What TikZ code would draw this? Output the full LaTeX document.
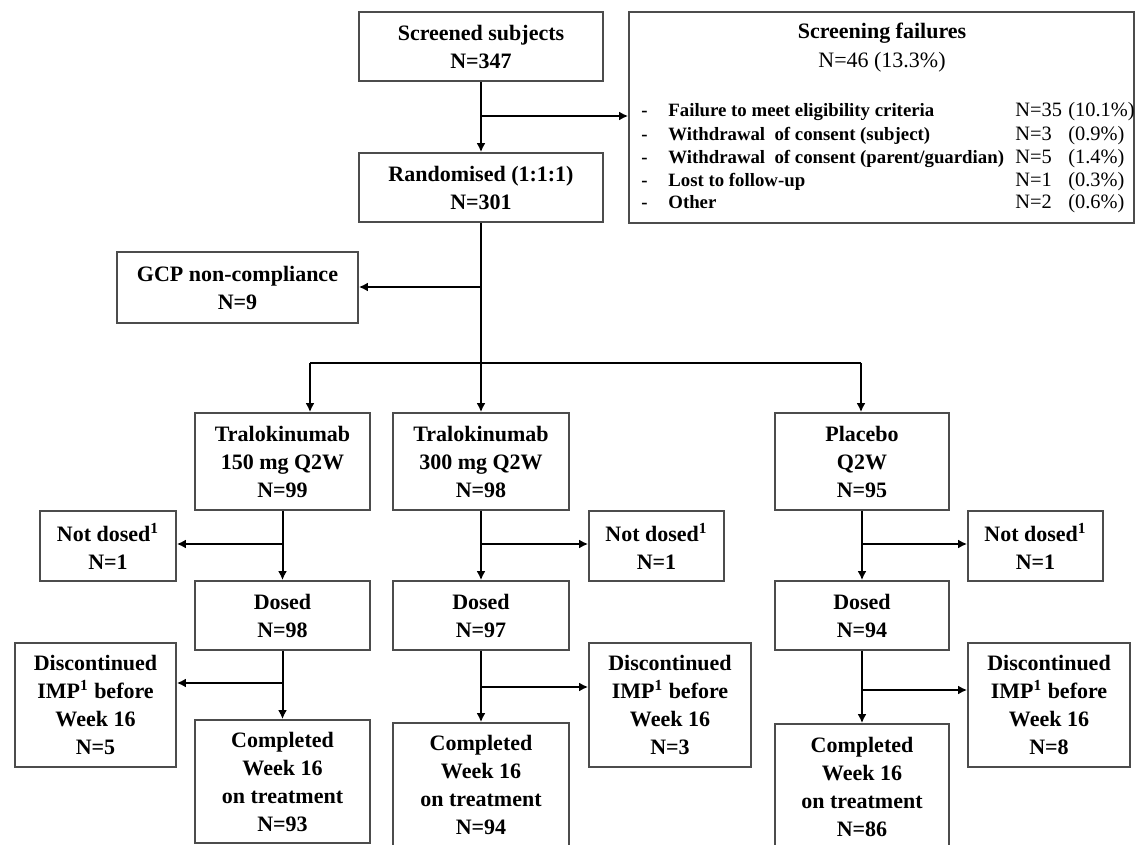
\documentclass[tikz,border=0pt]{standalone}
\usepackage{fontspec}
\setmainfont{Liberation Serif}
\usetikzlibrary{arrows.meta}
\begin{document}
\begin{tikzpicture}[x=0.5pt,y=-0.5pt,
  box/.style={draw=black!70, line width=0.9pt, fill=white, align=center, inner sep=0pt,
    font=\fontsize{11}{14}\selectfont\bfseries},
  arr/.style={line width=1pt, -{Latex[length=4.5pt,width=4.5pt]}},
  ln/.style={line width=1pt},
  dashitem/.style={anchor=base west, inner sep=0pt, font=\fontsize{9.4}{11}\selectfont\bfseries},
  item/.style={anchor=base west, inner sep=0pt, font=\fontsize{9.4}{11}\selectfont\bfseries},
  num/.style={anchor=base west, inner sep=0pt, font=\fontsize{10.2}{12}\selectfont}
]
\useasboundingbox (0,0) rectangle (1137,845);
\fill[white] (0,0) rectangle (1137,845);
\clip (0,0) rectangle (1137,845);

% top part
\node[box, minimum width=122pt, minimum height=34.5pt] (scr) at (481,46.5) {Screened subjects\\N=347};
\node[box, minimum width=122pt, minimum height=34.5pt] (rand) at (481,187.5) {Randomised (1:1:1)\\N=301};
\node[box, minimum width=252.5pt, minimum height=105.5pt] (sf) at (881.5,117.5) {};
\node[inner sep=0pt, align=center, font=\fontsize{11}{14.5}\selectfont] (sft) at (882,47.5) {\textbf{Screening failures}\\N=46 (13.3\%)};
\node[box, minimum width=120.5pt, minimum height=35.5pt] (gcp) at (237.5,287.5) {GCP non-compliance\\N=9};

% screening failure items
\node[dashitem] (d1) at (641,117) {-};
\node[dashitem] (d2) at (641,140.5) {-};
\node[dashitem] (d3) at (641,163.5) {-};
\node[dashitem] (d4) at (641,186.5) {-};
\node[dashitem] (d5) at (641,209) {-};
\node[item] (i1) at (668,117) {Failure to meet eligibility criteria};
\node[item] (i2) at (668,140.5) {Withdrawal\ \ of consent (subject)};
\node[item] (i3) at (668,163.5) {Withdrawal\ \ of consent (parent/guardian)};
\node[item] (i4) at (668,186.5) {Lost to follow-up};
\node[item] (i5) at (668,209) {Other};
\node[num] (n1) at (1015,117) {\makebox[26.5pt][l]{N=35}(10.1\%)};
\node[num] (n2) at (1015,140.5) {\makebox[26.5pt][l]{N=3}(0.9\%)};
\node[num] (n3) at (1015,163.5) {\makebox[26.5pt][l]{N=5}(1.4\%)};
\node[num] (n4) at (1015,186.5) {\makebox[26.5pt][l]{N=1}(0.3\%)};
\node[num] (n5) at (1015,209) {\makebox[26.5pt][l]{N=2}(0.6\%)};

% arms
\node[box, minimum width=87.5pt, minimum height=48.5pt] (t150) at (282.5,461.5) {Tralokinumab\\150 mg Q2W\\N=99};
\node[box, minimum width=88pt, minimum height=48.5pt] (t300) at (481,461.5) {Tralokinumab\\300 mg Q2W\\N=98};
\node[box, minimum width=87pt, minimum height=48.5pt] (pla) at (862,461.5) {Placebo\\Q2W\\N=95};

\node[box, minimum width=68pt, minimum height=35pt] (nd1) at (108,546) {Not dosed\textsuperscript{1}\\N=1};
\node[box, minimum width=67.5pt, minimum height=35pt] (nd2) at (656.5,546) {Not dosed\textsuperscript{1}\\N=1};
\node[box, minimum width=67.5pt, minimum height=35pt] (nd3) at (1035.5,546) {Not dosed\textsuperscript{1}\\N=1};

\node[box, minimum width=87.5pt, minimum height=34.5pt] (d150) at (282.5,615.5) {Dosed\\N=98};
\node[box, minimum width=88pt, minimum height=34.5pt] (d300) at (481,615.5) {Dosed\\N=97};
\node[box, minimum width=87pt, minimum height=34.5pt] (dpla) at (862,615.5) {Dosed\\N=94};

\node[box, minimum width=80.5pt, minimum height=62pt] (dc1) at (95.5,705) {Discontinued\\IMP\textsuperscript{1} before\\Week 16\\N=5};
\node[box, minimum width=81pt, minimum height=62pt] (dc2) at (670,705) {Discontinued\\IMP\textsuperscript{1} before\\Week 16\\N=3};
\node[box, minimum width=81pt, minimum height=62pt] (dc3) at (1049,705) {Discontinued\\IMP\textsuperscript{1} before\\Week 16\\N=8};

\node[box, minimum width=87.5pt, minimum height=61.5pt] (c150) at (282.5,781.5) {Completed\\Week 16\\on treatment\\N=93};
\node[box, minimum width=88pt, minimum height=62pt] (c300) at (481,785) {Completed\\Week 16\\on treatment\\N=94};
\node[box, minimum width=87pt, minimum height=63pt] (cpla) at (862,787) {Completed\\Week 16\\on treatment\\N=86};

% connectors: top
\draw[arr] (scr) -- (rand);
\coordinate (b1) at (481,116);
\draw[arr] (b1) -- (b1 -| sf.west);
\coordinate (b2) at (481,287);
\draw[arr] (b2) -- (b2 -| gcp.east);
\coordinate (b3) at (481,363);
\draw[ln] (rand) -- (b3);
\coordinate (bl) at (310,363);
\coordinate (br) at (861,363);
\draw[ln] (bl) -- (br);
\draw[arr] (bl) -- (bl |- t150.north);
\draw[arr] (b3) -- (t300);
\draw[arr] (br) -- (br |- pla.north);

% arm connectors
\draw[arr] (t150) -- (d150);
\draw[arr] (t300) -- (d300);
\draw[arr] (pla) -- (dpla);
\coordinate (j1) at (282.5,544);
\coordinate (j2) at (481,544);
\coordinate (j3) at (862,544);
\draw[arr] (j1) -- (j1 -| nd1.east);
\draw[arr] (j2) -- (j2 -| nd2.west);
\draw[arr] (j3) -- (j3 -| nd3.west);

\draw[arr] (d150) -- (c150);
\draw[arr] (d300) -- (c300);
\draw[arr] (dpla) -- (cpla);
\coordinate (k1) at (282.5,683);
\coordinate (k2) at (481,687);
\coordinate (k3) at (862,690);
\draw[arr] (k1) -- (k1 -| dc1.east);
\draw[arr] (k2) -- (k2 -| dc2.west);
\draw[arr] (k3) -- (k3 -| dc3.west);
\end{tikzpicture}
\end{document}
